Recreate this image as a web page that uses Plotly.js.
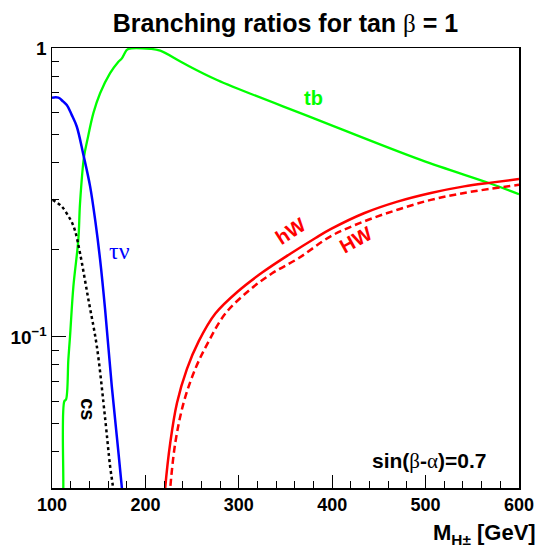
<!DOCTYPE html>
<html>
<head>
<meta charset="utf-8">
<script src="https://cdn.plot.ly/plotly-3.0.1.min.js"></script>
<style>html,body{margin:0;padding:0;background:#fff;}#chart{width:537px;height:547px;}</style>
</head>
<body>
<div id="chart"></div>
<script>
// ---- data (charged Higgs mass in GeV, branching ratio) ----
const tbMass = [111.5, 112.1, 113.2, 115.0, 117.5, 119.3, 122.9, 128.2, 130.0, 134.3, 137.9, 144.3, 151.5, 162.2, 171.1, 174.8, 179.4, 181.9, 205.2, 215.9, 240.9, 276.7, 380.4, 494.8, 570.0, 600.0];
const tbBR   = [0.025, 0.030, 0.0599, 0.0607, 0.0835, 0.1005, 0.1496, 0.217, 0.290, 0.421, 0.481, 0.595, 0.697, 0.818, 0.897, 0.921, 0.979, 0.993, 0.993, 0.979, 0.885, 0.775, 0.571, 0.410, 0.339, 0.312];

const tauMass = [100, 106.8, 112.1, 115.8, 121.1, 126.5, 133.6, 140.8, 146.5, 151.5, 156.9, 164.0, 169.4, 174.8, 175.6];
const tauBR   = [0.673, 0.673, 0.652, 0.635, 0.587, 0.535, 0.427, 0.332, 0.25, 0.185, 0.124, 0.0676, 0.0453, 0.0301, 0.028];

const csMass = [100.7, 110.4, 117.5, 121.1, 124.7, 130.0, 139.0, 148.0, 157.0, 162.2, 165.1, 165.6];
const csBR   = [0.298, 0.283, 0.262, 0.250, 0.233, 0.195, 0.1346, 0.0928, 0.0518, 0.0357, 0.0305, 0.029];

const hWMass = [220.6, 221.2, 226.6, 233.8, 244.5, 257.0, 274.9, 299.9, 325.0, 353.5, 382.2, 398.3, 434.0, 469.8, 505.6, 541.3, 570.0, 600.0];
const hWBR   = [0.028, 0.030, 0.043, 0.0591, 0.0775, 0.0965, 0.1205, 0.1445, 0.1670, 0.1925, 0.220, 0.236, 0.268, 0.294, 0.315, 0.332, 0.342, 0.352];

const HWMass = [226.0, 226.6, 232.0, 240.9, 253.4, 267.7, 285.6, 310.6, 335.7, 364.3, 398.3, 434.0, 469.8, 505.6, 541.3, 600.0];
const HWBR   = [0.028, 0.030, 0.043, 0.0591, 0.0775, 0.0965, 0.1205, 0.1445, 0.166, 0.1875, 0.223, 0.251, 0.2755, 0.298, 0.315, 0.336];

const xTickVals = [100, 200, 300, 400, 500, 600];
const yTickVals = [0.1, 1];
const yTickText = ["10<sup>\u22121</sup>", "1"];
const yMinorVals = [0.04, 0.05, 0.06, 0.07, 0.08, 0.09, 0.2, 0.3, 0.4, 0.5, 0.6, 0.7, 0.8, 0.9];

const labels = [
  {text: "tb", x: 380, y: 0.671, color: "#00ff00", angle: 0, greek: false, size: 20},
  {text: "\u03c4\u03bd", x: 172.5, y: 0.198, color: "#0000ff", angle: 0, greek: true, size: 24},
  {text: "cs", x: 139, y: 0.056, color: "#000000", angle: 90, greek: false, size: 20},
  {text: "hW", x: 355.4, y: 0.232, color: "#ff0000", angle: -33, greek: false, size: 20},
  {text: "HW", x: 425, y: 0.217, color: "#ff0000", angle: -29, greek: false, size: 20}
];

const SANS = "'Liberation Sans', Arial, Helvetica, sans-serif";
const greekSpan = s => `<span style="font-family:Liberation Serif, serif;font-weight:normal">${s}</span>`;

const traces = [
  {x: tbMass, y: tbBR, mode: "lines", line: {color: "#00ff00", width: 2.3, shape: "spline", smoothing: 1}, name: "tb"},
  {x: tauMass, y: tauBR, mode: "lines", line: {color: "#0000ff", width: 2.5, shape: "spline", smoothing: 1}, name: "tau nu"},
  {x: csMass, y: csBR, mode: "lines", line: {color: "#000000", width: 2.5, dash: "dot", shape: "spline", smoothing: 1}, name: "cs"},
  {x: hWMass, y: hWBR, mode: "lines", line: {color: "#ff0000", width: 2.5, shape: "spline", smoothing: 1}, name: "hW"},
  {x: HWMass, y: HWBR, mode: "lines", line: {color: "#ff0000", width: 2.5, dash: "7px,4px", shape: "spline", smoothing: 1}, name: "HW"}
];

const annotations = labels.map(l => ({
  text: l.greek ? greekSpan(l.text) : l.text,
  x: l.x, y: Math.log10(l.y), xref: "x", yref: "y",
  showarrow: false, textangle: l.angle,
  font: {family: SANS, size: l.size, color: l.color, weight: "bold"}
}));
annotations.push({
  text: "sin(" + greekSpan("\u03b2") + "-" + greekSpan("\u03b1") + ")=0.7",
  x: 568, y: Math.log10(0.0372), xref: "x", yref: "y", xanchor: "right",
  showarrow: false, font: {family: SANS, size: 21, color: "#000", weight: "bold"}
});
annotations.push({
  text: "M<sub>H\u00b1</sub> [GeV]",
  x: 1.04, y: -0.105, xref: "paper", yref: "paper", xanchor: "right", yanchor: "middle",
  showarrow: false, font: {family: SANS, size: 22, color: "#000", weight: "bold"}
});

const layout = {
  width: 537, height: 547,
  margin: {l: 52, r: 18, t: 48, b: 59},
  paper_bgcolor: "#fff", plot_bgcolor: "#fff",
  showlegend: false,
  title: {
    text: "Branching ratios for tan " + greekSpan("\u03b2") + " = 1",
    x: 0.5, xref: "paper", y: 0.958, yref: "container", yanchor: "middle",
    font: {family: SANS, size: 25, color: "#000", weight: "bold"}
  },
  xaxis: {
    range: [100, 600], tickmode: "array", tickvals: xTickVals,
    ticks: "inside", ticklen: 13, tickwidth: 1, tickcolor: "#000",
    minor: {tickmode: "linear", tick0: 100, dtick: 20, ticks: "inside", ticklen: 7, tickwidth: 1, tickcolor: "#000", showgrid: false},
    showline: true, linecolor: "#000", linewidth: 1.5, mirror: true,
    showgrid: false, zeroline: false,
    tickfont: {family: SANS, size: 18, color: "#000", weight: "bold"}
  },
  yaxis: {
    type: "log", range: [Math.log10(0.03), 0],
    tickmode: "array", tickvals: yTickVals, ticktext: yTickText,
    ticks: "inside", ticklen: 14, tickwidth: 1, tickcolor: "#000",
    minor: {tickmode: "array", tickvals: yMinorVals, ticks: "inside", ticklen: 7, tickwidth: 1, tickcolor: "#000", showgrid: false},
    showline: true, linecolor: "#000", linewidth: 1.5, mirror: true,
    showgrid: false, zeroline: false,
    tickfont: {family: SANS, size: 19, color: "#000", weight: "bold"}
  },
  annotations: annotations
};

Plotly.newPlot("chart", traces, layout, {staticPlot: true, displayModeBar: false});
</script>
</body>
</html>
